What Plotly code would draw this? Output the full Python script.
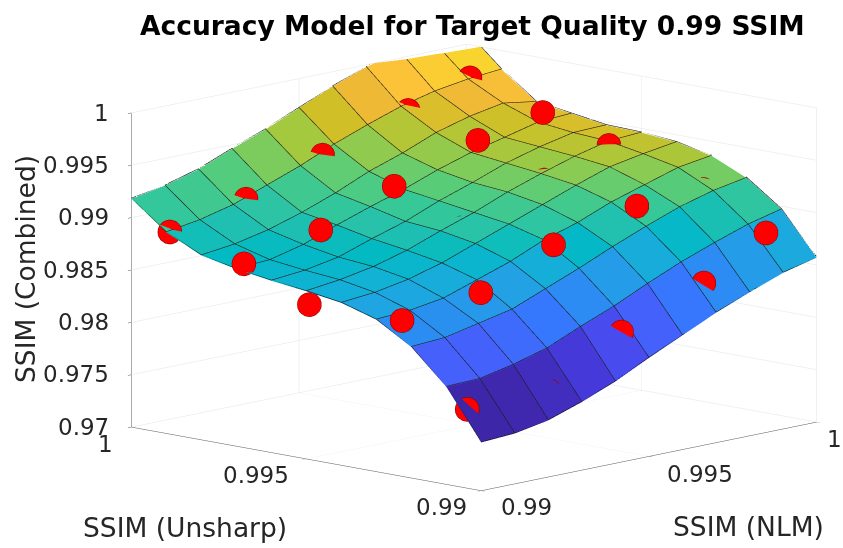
import plotly.graph_objects as go
from plotly.colors import sample_colorscale

x_grid = [0.990, 0.991, 0.992, 0.993, 0.994, 0.995, 0.996, 0.997, 0.998, 0.999, 1.000]
y_grid = [0.990, 0.991, 0.992, 0.993, 0.994, 0.995, 0.996, 0.997, 0.998, 0.999, 1.000]
z_grid = [
    [.9746,.9748,.9754,.9765,.9778,.9794,.9809,.9824,.9837,.9849,.9857],
    [.9793,.9794,.9801,.9810,.9824,.9837,.9852,.9866,.9878,.9889,.9897],
    [.9825,.9827,.9834,.9841,.9854,.9867,.9881,.9894,.9906,.9915,.9921],
    [.9845,.9847,.9852,.9863,.9874,.9888,.9898,.9911,.9921,.9931,.9936],
    [.9855,.9858,.9864,.9873,.9885,.9897,.9909,.9921,.9932,.9938,.9943],
    [.9860,.9864,.9870,.9879,.9891,.9902,.9915,.9926,.9936,.9944,.9946],
    [.9864,.9867,.9873,.9884,.9894,.9907,.9918,.9930,.9939,.9946,.9947],
    [.9869,.9871,.9879,.9891,.9902,.9912,.9924,.9934,.9942,.9950,.9952],
    [.9876,.9880,.9887,.9897,.9909,.9923,.9934,.9947,.9956,.9962,.9957],
    [.9892,.9897,.9905,.9917,.9929,.9943,.9955,.9966,.9974,.9979,.9982],
    [.9918,.9924,.9933,.9946,.9958,.9972,.9986,.9998,1.0006,1.0009,1.0012],
]
pts_x = [.99015,.99000,.99000,.99000,.99025,
         .99235,.99225,.99223,.99243,.99260,
         .99460,.99446,.99470,.99463,.99480,
         .99715,.99683,.99720,.99699,.99715,
         .99910,.99891,.99890,.99915,.99893]
pts_y = [.99905,.99679,.99492,.99227,.99065,
         .99898,.99675,.99466,.99235,.99055,
         .99895,.99677,.99512,.99238,.99060,
         .99895,.99665,.99510,.99226,.99050,
         .99905,.99679,.99489,.99245,.99043]
pts_z = [.98915,.98758,.98482,.98491,.97725,
         .99088,.98936,.98590,.98593,.97750,
         .99363,.99208,.98893,.98904,.98168,
         .99623,.99498,.99189,.99127,.98488,
         .99800,.99619,.99421,.99134,.98854]
xy_ticks = [0.99, 0.995, 1]
xy_labels = ["0.99", "0.995", "1"]
z_ticks = [0.97, 0.975, 0.98, 0.985, 0.99, 0.995, 1]
z_labels = ["0.97", "0.975", "0.98", "0.985", "0.99", "0.995", "1"]
parula = [(.2422,.1504,.6603),(.2647,.1978,.7952),(.2783,.2559,.8991),(.2810,.3228,.9579),(.2699,.3892,.9906),
          (.2206,.4603,.9973),(.1786,.5289,.9682),(.1540,.5902,.9218),(.1248,.6459,.8883),(.0689,.6948,.8394),
          (.0067,.7312,.7660),(.1408,.7584,.6842),(.2161,.7843,.5923),(.3406,.8008,.4789),(.5044,.7993,.3480),
          (.6720,.7793,.2227),(.8203,.7498,.1535),(.9393,.7288,.2100),(.9970,.7659,.2199),(.9786,.8386,.1766),
          (.9597,.9135,.1423),(.9769,.9839,.0805)]
scale = [[n / (len(parula) - 1), "rgb(%d,%d,%d)" % tuple(round(255 * v) for v in c)] for n, c in enumerate(parula)]
CMIN, CMAX = 0.9746, 1.0005

ni, nj = len(x_grid), len(y_grid)
vx, vy, vz = [], [], []
for j in range(nj):
    for i in range(ni):
        vx.append(x_grid[i]); vy.append(y_grid[j]); vz.append(z_grid[j][i])
ti, tj, tk, cell = [], [], [], []
for j in range(nj - 1):
    for i in range(ni - 1):
        a = j * ni + i; b = a + 1; c = a + ni; d = c + 1
        ti += [a, a]; tj += [b, d]; tk += [d, c]
        cell += [(z_grid[j][i] - CMIN) / (CMAX - CMIN)] * 2
face = sample_colorscale(scale, cell)

lx, ly, lz = [], [], []
lift = 0.00006
for j in range(nj):
    lx += x_grid + [None]; ly += [y_grid[j]] * ni + [None]
    lz += [z + lift for z in z_grid[j]] + [None]
for i in range(ni):
    lx += [x_grid[i]] * nj + [None]; ly += y_grid + [None]
    lz += [z_grid[j][i] + lift for j in range(nj)] + [None]

fig = go.Figure()
fig.add_trace(go.Mesh3d(x=vx, y=vy, z=vz, i=ti, j=tj, k=tk, facecolor=face, showscale=False, flatshading=True,
                        lighting=dict(ambient=1, diffuse=0, specular=0, roughness=1, fresnel=0),
                        hoverinfo="skip"))
fig.add_trace(go.Scatter3d(x=lx, y=ly, z=lz, mode="lines", line=dict(color="#1c1c1c", width=1.2),
                           hoverinfo="skip", showlegend=False))
fig.add_trace(go.Scatter3d(x=pts_x, y=pts_y, z=pts_z, mode="markers",
                           marker=dict(size=14, color="#ff0000", line=dict(color="#7a0000", width=1)),
                           showlegend=False))

def axis(rng, vals):
    return dict(range=rng, tickvals=vals, showticklabels=False, title=dict(text=""), showbackground=False,
                showgrid=True, gridcolor="#e4e4e4", gridwidth=1, zeroline=False, showspikes=False,
                showline=True, linecolor="#555555", linewidth=1, ticks="outside", ticklen=5,
                tickcolor="#555555")

W, H = 843, 548
TICK = dict(family="DejaVu Sans", size=23, color="#262626")
def note(text, px, py, size=26.5, color="#262626", angle=0):
    return dict(text=text, x=px / W, y=1 - py / H, xref="paper", yref="paper", xanchor="center", yanchor="middle",
                textangle=angle, showarrow=False, font=dict(family="DejaVu Sans", size=size, color=color))

z_notes = [dict(x=0.99, y=1, z=v, text=t, showarrow=False, xanchor="right", yanchor="middle",
                xshift=-20, yshift=0, font=TICK) for v, t in zip(z_ticks, z_labels)]
y_shift = [(-40, -17), (-50, -16), (-26, -17)]
x_shift = [(45, -17), (51, -18), (18, -17)]
y_notes = [dict(x=0.99, y=v, z=0.97, text=t, showarrow=False, xanchor="center", yanchor="middle",
                xshift=s[0], yshift=s[1], font=TICK) for v, t, s in zip(xy_ticks, xy_labels, y_shift)]
x_notes = [dict(x=v, y=0.99, z=0.97, text=t, showarrow=False, xanchor="center", yanchor="middle",
                xshift=s[0], yshift=s[1], font=TICK) for v, t, s in zip(xy_ticks, xy_labels, x_shift)]

fig.update_layout(
    width=W, height=H, margin=dict(l=0, r=0, t=0, b=0), paper_bgcolor="white", showlegend=False,
    scene=dict(
        domain=dict(x=[0.1247, 1.0], y=[0.0245, 1.0]),
        xaxis=axis([0.99, 1], xy_ticks),
        yaxis=axis([0.99, 1], xy_ticks),
        zaxis=axis([0.97, 1], z_ticks),
        aspectmode="manual", aspectratio=dict(x=1.828, y=1.798, z=1.197),
        camera=dict(eye=dict(x=-1.57, y=-1.48, z=0.424), center=dict(x=0, y=0, z=0),
                    up=dict(x=0, y=0, z=1), projection=dict(type="orthographic")),
        annotations=z_notes + y_notes + x_notes,
    ),
    annotations=[
        note("<b>Accuracy Model for Target Quality 0.99 SSIM</b>", 472, 25, 26.5, "black"),
        note("SSIM (Unsharp)", 185, 527),
        note("SSIM (NLM)", 748, 526),
        note("SSIM (Combined)", 25, 269, angle=-90),
    ],
)
fig.write_html("out.html", config={"displayModeBar": False}, post_script="document.body.style.margin='0';")
